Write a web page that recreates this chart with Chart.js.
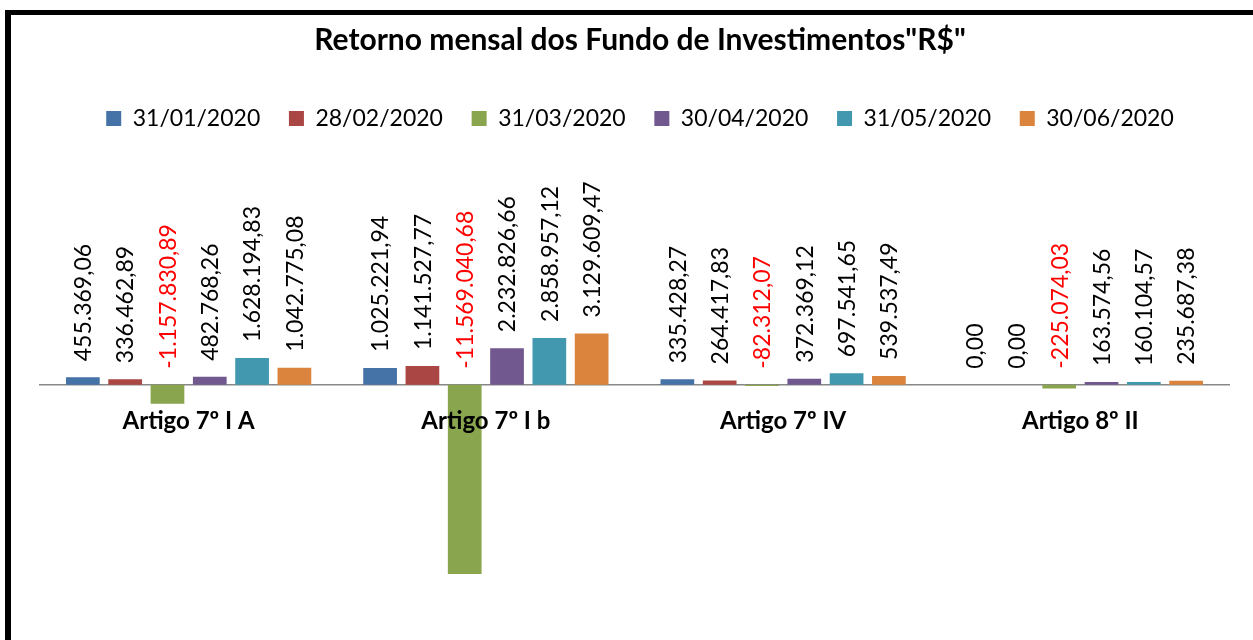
<!DOCTYPE html>
<html>
<head>
<meta charset="utf-8">
<script src="https://cdn.jsdelivr.net/npm/chart.js@4.4.1/dist/chart.umd.min.js"></script>
<style>
  html, body { margin: 0; padding: 0; background: #ffffff; overflow: hidden; }
  #wrap { position: relative; width: 1253px; height: 640px; }
</style>
</head>
<body>
<div id="wrap"><canvas id="c"></canvas></div>
<script>
// ---- data ----
const categories = ['Artigo 7º I A', 'Artigo 7º I b', 'Artigo 7º IV', 'Artigo 8º II'];
const seriesNames = ['31/01/2020', '28/02/2020', '31/03/2020', '30/04/2020', '31/05/2020', '30/06/2020'];
const jan2020 = [455369.06, 1025221.94, 335428.27, 0.00];
const feb2020 = [336462.89, 1141527.77, 264417.83, 0.00];
const mar2020 = [-1157830.89, -11569040.68, -82312.07, -225074.03];
const apr2020 = [482768.26, 2232826.66, 372369.12, 163574.56];
const may2020 = [1628194.83, 2858957.12, 697541.65, 160104.57];
const jun2020 = [1042775.08, 3129609.47, 539537.49, 235687.38];
const chartTitle = 'Retorno mensal dos Fundo de Investimentos"R$"';

// ---- styles ----
const seriesColors = ['#4572A7', '#AA4643', '#89A54E', '#71588F', '#4198AF', '#DB843D'];
const FONT = 'Lato, "Open Sans", "Noto Sans", sans-serif';

function fmtBR(v) {
  const s = Math.abs(v).toFixed(2);
  let [i, d] = s.split('.');
  i = i.replace(/\B(?=(\d{3})+(?!\d))/g, '.');
  return (v < 0 ? '-' : '') + i + ',' + d;
}

const seriesValues = [jan2020, feb2020, mar2020, apr2020, may2020, jun2020];
const datasets = seriesNames.map((name, k) => ({
  label: name,
  data: seriesValues[k],
  backgroundColor: seriesColors[k],
  borderWidth: 0,
  categoryPercentage: 0.854,
  barPercentage: 0.797
}));

const valueLabels = {
  id: 'valueLabels',
  afterDatasetsDraw(chart) {
    const ctx = chart.ctx;
    ctx.save();
    ctx.font = '23px ' + FONT;
    ctx.textAlign = 'left';
    ctx.textBaseline = 'alphabetic';
    chart.data.datasets.forEach((ds, di) => {
      const meta = chart.getDatasetMeta(di);
      meta.data.forEach((bar, i) => {
        const v = ds.data[i];
        const top = Math.min(bar.y, bar.base);
        ctx.save();
        ctx.translate(bar.x, top - 16);
        ctx.rotate(-Math.PI / 2);
        ctx.fillStyle = v < 0 ? '#FF0000' : '#000000';
        ctx.fillText(fmtBR(v), 0, 8.3);
        ctx.restore();
      });
    });
    ctx.restore();
  }
};

const frame = {
  id: 'frame',
  afterDraw(chart) {
    const ctx = chart.ctx;
    ctx.save();
    ctx.fillStyle = '#000000';
    ctx.fillRect(5, 10, 6, 640);
    ctx.fillRect(5, 10, 1253, 5);
    ctx.restore();
  }
};

new Chart(document.getElementById('c'), {
  type: 'bar',
  data: { labels: categories, datasets },
  options: {
    responsive: true,
    maintainAspectRatio: false,
    animation: false,
    events: [],
    layout: { padding: { top: 22.8, left: 40, right: 13, bottom: 0 } },
    plugins: {
      title: {
        display: true,
        text: chartTitle,
        color: '#000000',
        font: { family: FONT, size: 30, weight: 'bold' },
        padding: { top: 0, bottom: 19.4 }
      },
      legend: {
        display: true,
        position: 'top',
        labels: {
          color: '#000000',
          font: { family: FONT, size: 23 },
          boxWidth: 15,
          boxHeight: 15,
          padding: 28.7
        }
      },
      tooltip: { enabled: false }
    },
    scales: {
      x: {
        position: { y: 0 },
        grid: { display: false, drawTicks: false },
        border: { display: true, color: '#888888', width: 1.5 },
        ticks: {
          z: 1,
          color: '#000000',
          font: { family: FONT, size: 24, weight: 'bold' },
          padding: 22,
          maxRotation: 0,
          autoSkip: false
        }
      },
      y: {
        position: 'right',
        min: -15610000,
        max: 14970000,
        grid: { display: false, drawTicks: false },
        border: { display: false },
        ticks: { display: false },
        afterFit(scale) { scale.width = 11; }
      }
    }
  },
  plugins: [valueLabels, frame]
});
</script>
</body>
</html>
